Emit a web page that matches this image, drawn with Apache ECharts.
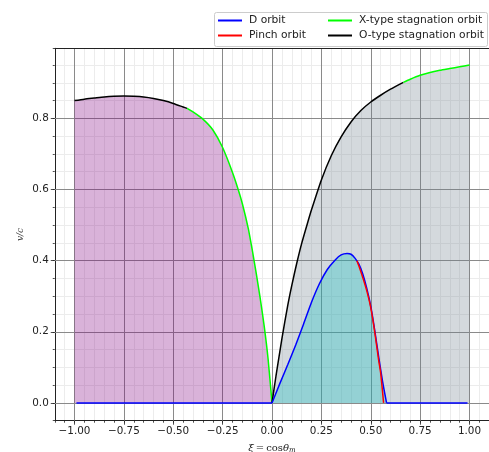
<!DOCTYPE html>
<html>
<head>
<meta charset="utf-8">
<script src="https://cdn.jsdelivr.net/npm/echarts@6/dist/echarts.min.js"></script>
<style>html,body{margin:0;padding:0;background:#fff}#c{width:489px;height:452px}</style>
</head>
<body>
<div id="c"></div>
<script>
// ---- data ----
const xMajorTicks = [-1, -0.75, -0.5, -0.25, 0, 0.25, 0.5, 0.75, 1];
const yMajorTicks = [0, 0.2, 0.4, 0.6, 0.8];

// O-type stagnation orbit, xi < 0
const oLeftX = [-1.00, -0.95, -0.90, -0.85, -0.80, -0.75, -0.70, -0.65, -0.60, -0.55, -0.50, -0.45, -0.43];
const oLeftY = [0.850, 0.854, 0.857, 0.860, 0.862, 0.863, 0.862, 0.860, 0.856, 0.850, 0.842, 0.832, 0.828];
// X-type stagnation orbit, xi < 0
const xLeftX = [-0.43, -0.40, -0.35, -0.30, -0.25, -0.20, -0.17, -0.15, -0.12, -0.10, -0.08, -0.06, -0.04, -0.02, 0.00];
const xLeftY = [0.828, 0.818, 0.798, 0.768, 0.718, 0.648, 0.598, 0.560, 0.490, 0.430, 0.365, 0.295, 0.218, 0.125, 0.000];
// O-type stagnation orbit, xi > 0
const oRightX = [0.00, 0.02, 0.05, 0.08, 0.10, 0.125, 0.15, 0.18, 0.20, 0.25, 0.30, 0.35, 0.40, 0.45, 0.50, 0.55, 0.60, 0.65, 0.665];
const oRightY = [0.000, 0.075, 0.180, 0.275, 0.330, 0.392, 0.448, 0.506, 0.543, 0.627, 0.695, 0.748, 0.790, 0.822, 0.846, 0.865, 0.882, 0.897, 0.901];
// X-type stagnation orbit, xi > 0
const xRightX = [0.665, 0.70, 0.75, 0.80, 0.85, 0.90, 0.95, 1.00];
const xRightY = [0.901, 0.910, 0.921, 0.929, 0.935, 0.940, 0.945, 0.950];
// D orbit
const dX = [-0.99, 0.00, 0.04, 0.08, 0.12, 0.16, 0.20, 0.24, 0.28, 0.32, 0.35, 0.38, 0.40, 0.42, 0.44, 0.46, 0.48, 0.50, 0.52, 0.54, 0.56, 0.58, 0.99];
const dY = [0.000, 0.000, 0.055, 0.108, 0.163, 0.222, 0.283, 0.335, 0.375, 0.402, 0.416, 0.420, 0.418, 0.407, 0.390, 0.362, 0.322, 0.272, 0.205, 0.130, 0.060, 0.000, 0.000];
// Pinch orbit
const pX = [0.43, 0.44, 0.46, 0.48, 0.50, 0.52, 0.54, 0.55, 0.565];
const pY = [0.400, 0.385, 0.352, 0.315, 0.268, 0.200, 0.120, 0.085, 0.000];

const zip = (xs, ys) => xs.map((x, i) => [x, ys[i]]);
const leftEnvelope = zip(oLeftX, oLeftY).concat(zip(xLeftX, xLeftY).slice(1));
const rightEnvelope = zip(oRightX, oRightY).concat(zip(xRightX, xRightY).slice(1));
const dAll = zip(dX, dY);
const dHump = dAll.filter(p => p[0] >= 0 && p[0] <= 0.58);
const dFlatL = dAll.filter(p => p[0] <= 0);
const dFlatR = dAll.filter(p => p[0] >= 0.58);

const FONT = 'DejaVu Sans';
const XMIN = -1.1, XMAX = 1.1, YMIN = -0.05, YMAX = 0.997;
const SM = 0.2;

function fillSeries(data, color) {
  return {type: 'line', data, showSymbol: false, silent: true, lineStyle: {width: 0},
    smooth: SM,
    areaStyle: {color, opacity: 1}, z: 2, animation: false};
}
function lineSeries(name, data, color, z, smooth) {
  return {type: 'line', name, data, showSymbol: false, symbol: 'none', lineStyle: {width: 1.5, color},
    smooth: smooth ? SM : false,
    itemStyle: {color}, z: z || 3, animation: false};
}

const chart = echarts.init(document.getElementById('c'), null, {renderer: 'canvas'});
chart.setOption({
  animation: false,
  backgroundColor: '#fff',
  grid: {left: 54.75, top: 48.3, width: 434.5, height: 372.4, outerBoundsMode: 'none', containLabel: false},
  xAxis: [
    {type: 'value', min: XMIN, max: XMAX, interval: 0.05, z: 0,
      axisLine: {show: true, onZero: false, lineStyle: {color: '#222', width: 1}},
      axisTick: {show: true, length: 2, lineStyle: {color: '#222', width: 0.8}},
      axisLabel: {show: false}, splitLine: {show: true, lineStyle: {color: '#ececec', width: 1}}},
    {type: 'value', min: XMIN, max: XMAX, position: 'bottom', z: 1,
      axisLine: {show: false, onZero: false},
      axisTick: {show: true, length: 4, customValues: xMajorTicks, lineStyle: {color: '#222', width: 0.8}},
      axisLabel: {show: true, customValues: xMajorTicks, fontFamily: FONT, fontSize: 10.4, color: '#222', margin: 6,
        formatter: v => (v < 0 ? '\u2212' : '') + Math.abs(v).toFixed(2)},
      splitLine: {show: true, lineStyle: {color: '#8a8a8a', width: 1}},
      name: '{a|\u03be}\u2009=\u2009cos{a|\u03b8}{s|m}', nameLocation: 'middle', nameGap: 22,
      nameTextStyle: {fontFamily: 'DejaVu Serif', fontSize: 10, color: '#222',
        rich: {a: {fontFamily: 'DejaVu Serif', fontStyle: 'italic', fontSize: 10, color: '#222'},
               s: {fontFamily: 'DejaVu Serif', fontStyle: 'italic', fontSize: 7, color: '#222', verticalAlign: 'bottom', padding: [4, 0, 0, 0]}}}},
    {type: 'value', min: XMIN, max: XMAX, position: 'top', z: 1,
      axisLine: {show: true, onZero: false, lineStyle: {color: '#222', width: 1}},
      axisTick: {show: false}, axisLabel: {show: false}, splitLine: {show: false}}
  ],
  yAxis: [
    {type: 'value', min: YMIN, max: YMAX, interval: 0.05, z: 0,
      axisLine: {show: true, onZero: false, lineStyle: {color: '#222', width: 1}},
      axisTick: {show: true, length: 2, lineStyle: {color: '#222', width: 0.8}},
      axisLabel: {show: false}, splitLine: {show: true, lineStyle: {color: '#ececec', width: 1}}},
    {type: 'value', min: YMIN, max: YMAX, position: 'left', z: 1,
      axisLine: {show: false, onZero: false},
      axisTick: {show: true, length: 4, customValues: yMajorTicks, lineStyle: {color: '#222', width: 0.8}},
      axisLabel: {show: true, customValues: yMajorTicks, fontFamily: FONT, fontSize: 10.4, color: '#222', margin: 6,
        formatter: v => v.toFixed(1)},
      splitLine: {show: true, lineStyle: {color: '#8a8a8a', width: 1}},
      name: 'v/c', nameLocation: 'middle', nameRotate: 90, nameGap: 30, nameMoveOverlap: false,
      nameTextStyle: {fontFamily: 'DejaVu Serif', fontStyle: 'italic', fontSize: 9, color: '#444'}}
  ],
  legend: [
    {data: ['D orbit', 'Pinch orbit'], orient: 'vertical', left: 218, top: 14.5, padding: 0,
      itemWidth: 24, itemHeight: 2, itemGap: 3, icon: 'rect',
      textStyle: {fontFamily: FONT, fontSize: 10.7, color: '#222', lineHeight: 12, padding: [0, 0, 0, 2]}},
    {data: ['X-type stagnation orbit', 'O-type stagnation orbit'], orient: 'vertical', left: 328, top: 14.5, padding: 0,
      itemWidth: 24, itemHeight: 2, itemGap: 3, icon: 'rect',
      textStyle: {fontFamily: FONT, fontSize: 10.7, color: '#222', lineHeight: 12, padding: [0, 0, 0, 2]}}
  ],
  graphic: [
    {type: 'rect', shape: {x: 214.5, y: 12.5, width: 273, height: 34, r: 2}, z: 0,
      style: {fill: 'rgba(255,255,255,0.8)', stroke: '#cccccc', lineWidth: 1}}
  ],
  series: [
    fillSeries(leftEnvelope, 'rgba(128,0,128,0.3)'),
    fillSeries(rightEnvelope, 'rgba(112,128,144,0.3)'),
    fillSeries(dHump, 'rgba(0,191,191,0.3)'),
    lineSeries('O-type stagnation orbit', zip(oLeftX, oLeftY), '#000000', 3, true),
    lineSeries('X-type stagnation orbit', zip(xLeftX, xLeftY), '#00ff00', 3, true),
    lineSeries('O-type stagnation orbit', zip(oRightX, oRightY), '#000000', 3, true),
    lineSeries('X-type stagnation orbit', zip(xRightX, xRightY), '#00ff00', 3, true),
    lineSeries('D orbit', dFlatL, '#0000ff', 4, false),
    lineSeries('D orbit', dHump, '#0000ff', 4, true),
    lineSeries('D orbit', dFlatR, '#0000ff', 4, false),
    lineSeries('Pinch orbit', zip(pX, pY), '#ff0000', 5, true)
  ]
});
</script>
</body>
</html>
